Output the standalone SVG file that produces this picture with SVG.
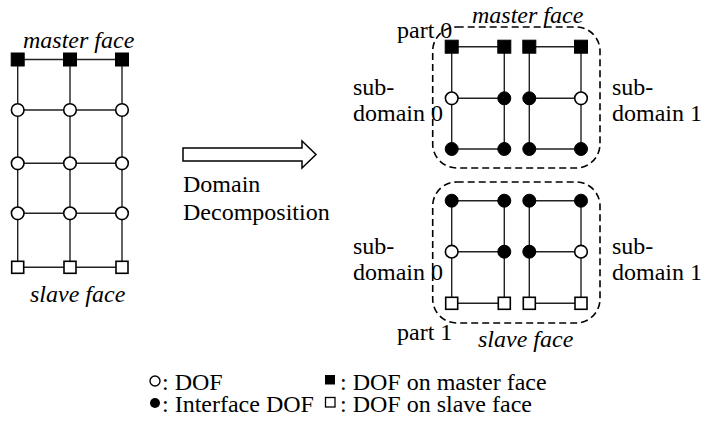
<svg xmlns="http://www.w3.org/2000/svg" width="701" height="421" viewBox="0 0 701 421">
  <style>
    text { font-family: "Liberation Serif", "Times New Roman", serif; font-size: 24px; fill: #000; }
    .it { font-style: italic; }
    .grid { stroke: #222; stroke-width: 1.4; fill: none; }
    .dof { fill: #fff; stroke: #000; stroke-width: 1.6; }
    .ifc { fill: #000; stroke: #000; stroke-width: 1; }
    .mst { fill: #000; stroke: #000; stroke-width: 1; }
    .slv { fill: #fff; stroke: #000; stroke-width: 1.6; }
    .part { fill: none; stroke: #000; stroke-width: 1.6; stroke-dasharray: 7 4; }
    .arrow { fill: #fff; stroke: #000; stroke-width: 1.5; }
  </style>
  <defs>
    <circle id="c-dof" r="6.3" class="dof"/>
    <circle id="c-ifc" r="6.5" class="ifc"/>
    <rect id="s-mst" x="-6.5" y="-6.5" width="13" height="13" class="mst"/>
    <rect id="s-slv" x="-6" y="-6" width="12" height="12" class="slv"/>
  </defs>

  <!-- original mesh -->
  <g id="mesh">
    <path class="grid" d="M17.7 59.5V267.3M70 59.5V267.3M122 59.5V267.3M17.7 59.5H122M17.7 110H122M17.7 163.3H122M17.7 213.3H122M17.7 267.3H122"/>
    <use href="#s-mst" x="17.7" y="59.5"/><use href="#s-mst" x="70" y="59.5"/><use href="#s-mst" x="122" y="59.5"/>
    <use href="#c-dof" x="17.7" y="110"/><use href="#c-dof" x="70" y="110"/><use href="#c-dof" x="122" y="110"/>
    <use href="#c-dof" x="17.7" y="163.3"/><use href="#c-dof" x="70" y="163.3"/><use href="#c-dof" x="122" y="163.3"/>
    <use href="#c-dof" x="17.7" y="213.3"/><use href="#c-dof" x="70" y="213.3"/><use href="#c-dof" x="122" y="213.3"/>
    <use href="#s-slv" x="17.7" y="267.3"/><use href="#s-slv" x="70" y="267.3"/><use href="#s-slv" x="122" y="267.3"/>
    <text class="it" x="23" y="48">master face</text>
    <text class="it" x="30" y="301.5">slave face</text>
  </g>

  <!-- decomposition arrow -->
  <g id="decomposition">
    <polygon class="arrow" points="183,148 302,148 302,141 316,154.5 302,168 302,161 183,161"/>
    <text x="183" y="192">Domain</text>
    <text x="183" y="220">Decomposition</text>
  </g>

  <!-- part 0 -->
  <g id="part0">
    <rect class="part" x="432.7" y="27" width="167.3" height="141" rx="24"/>
    <path class="grid" d="M451.7 46.7V149M504.3 46.7V149M451.7 46.7H504.3M451.7 98.3H504.3M451.7 149H504.3M529.3 46.7V149M581 46.7V149M529.3 46.7H581M529.3 98.3H581M529.3 149H581"/>
    <use href="#s-mst" x="451.7" y="46.7"/><use href="#s-mst" x="504.3" y="46.7"/>
    <use href="#s-mst" x="529.3" y="46.7"/><use href="#s-mst" x="581" y="46.7"/>
    <use href="#c-dof" x="451.7" y="98.3"/><use href="#c-ifc" x="504.3" y="98.3"/>
    <use href="#c-ifc" x="529.3" y="98.3"/><use href="#c-dof" x="581" y="98.3"/>
    <use href="#c-ifc" x="451.7" y="149"/><use href="#c-ifc" x="504.3" y="149"/>
    <use href="#c-ifc" x="529.3" y="149"/><use href="#c-ifc" x="581" y="149"/>
    <text x="397" y="38">part 0</text>
    <text class="it" x="472" y="23">master face</text>
    <text x="353" y="95">sub-</text>
    <text x="353" y="121">domain 0</text>
    <text x="612" y="95">sub-</text>
    <text x="612" y="121">domain 1</text>
  </g>

  <!-- part 1 -->
  <g id="part1">
    <rect class="part" x="432.7" y="182" width="167.3" height="141" rx="24"/>
    <path class="grid" d="M451.7 200.7V303.3M504.3 200.7V303.3M451.7 200.7H504.3M451.7 251.7H504.3M451.7 303.3H504.3M529.3 200.7V303.3M581 200.7V303.3M529.3 200.7H581M529.3 251.7H581M529.3 303.3H581"/>
    <use href="#c-ifc" x="451.7" y="200.7"/><use href="#c-ifc" x="504.3" y="200.7"/>
    <use href="#c-ifc" x="529.3" y="200.7"/><use href="#c-ifc" x="581" y="200.7"/>
    <use href="#c-dof" x="451.7" y="251.7"/><use href="#c-ifc" x="504.3" y="251.7"/>
    <use href="#c-ifc" x="529.3" y="251.7"/><use href="#c-dof" x="581" y="251.7"/>
    <use href="#s-slv" x="451.7" y="303.3"/><use href="#s-slv" x="504.3" y="303.3"/>
    <use href="#s-slv" x="529.3" y="303.3"/><use href="#s-slv" x="581" y="303.3"/>
    <text x="397" y="340">part 1</text>
    <text class="it" x="478" y="347">slave face</text>
    <text x="353" y="254">sub-</text>
    <text x="353" y="280">domain 0</text>
    <text x="612" y="254">sub-</text>
    <text x="612" y="280">domain 1</text>
  </g>

  <!-- legend -->
  <g id="legend">
    <circle cx="155" cy="381" r="5" fill="#fff" stroke="#000" stroke-width="1.4"/>
    <text x="162" y="390">: DOF</text>
    <circle cx="155" cy="403" r="5" fill="#000"/>
    <text x="162" y="412">: Interface DOF</text>
    <rect x="325" y="375" width="10" height="9.5" fill="#000"/>
    <text x="340" y="390">: DOF on master face</text>
    <rect x="325.5" y="397.5" width="9.5" height="9.5" fill="#fff" stroke="#000" stroke-width="1.3"/>
    <text x="340" y="412">: DOF on slave face</text>
  </g>
</svg>
